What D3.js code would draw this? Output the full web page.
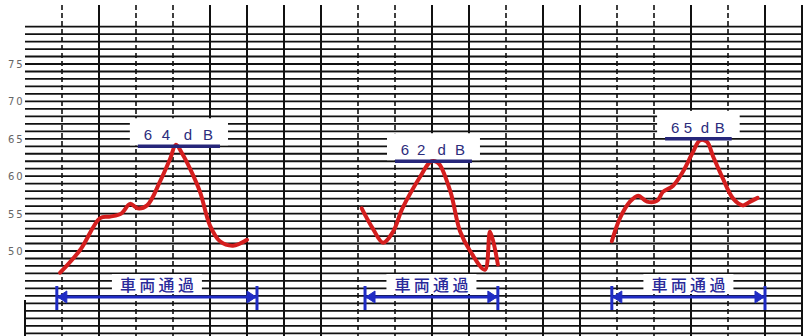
<html>
<head>
<script src="https://d3js.org/d3.v7.min.js"></script>
<style>
  body { margin: 0; background: #fff; }
  svg { display: block; }
</style>
</head>
<body>
<div id="chart"></div>
<script>
// y tick labels (dB)
const dbTicks = [75, 70, 65, 60, 55, 50];

// three recorded traces: time (grid units) and level (dB)
const trace1T  = [0.95, 1.5, 2.03, 2.3, 2.6, 2.84, 3.05, 3.3, 3.65, 3.92, 4.08, 4.25, 4.46, 4.73, 5.0, 5.27, 5.62, 6.0];
const trace1Db = [47.1, 50.2, 54.4, 54.6, 55.0, 56.3, 55.7, 56.1, 59.3, 62.3, 64.2, 63.0, 61.0, 57.9, 53.4, 51.3, 50.7, 51.5];

const trace2T  = [9.1, 9.4, 9.68, 9.95, 10.2, 10.7, 10.95, 11.08, 11.2, 11.5, 11.76, 12.03, 12.43, 12.57, 12.78];
const trace2Db = [55.7, 53.0, 51.1, 52.6, 55.7, 60.1, 61.9, 62.0, 61.6, 57.9, 52.6, 50.0, 47.5, 52.6, 48.2];

const trace3T  = [15.86, 16.08, 16.35, 16.57, 16.81, 17.08, 17.24, 17.51, 17.78, 18.05, 18.24, 18.43, 18.6, 18.86, 19.14, 19.4, 19.6, 19.8];
const trace3Db = [51.3, 54.4, 56.6, 57.4, 56.6, 56.7, 57.9, 58.7, 60.6, 63.2, 64.8, 64.6, 62.6, 59.7, 57.0, 56.1, 56.6, 57.1];

// peak annotations
const peakLabels = ["64 dB", "62 dB", "65 dB"];
const peakValues = [64, 62, 65];
const peakFrom   = [3.05, 10.0, 17.3];
const peakTo     = [5.27, 12.08, 19.1];

// vehicle passage spans
const passLabel = "車両通過";
const passFrom  = [0.86, 9.19, 15.86];
const passTo    = [6.27, 12.78, 20.0];

const width = 803, height = 336;

const x = d3.scaleLinear().domain([0, 21]).range([25, 802]);
const y = d3.scaleLinear().domain([50, 75]).range([251, 64]);

const svg = d3.select("#chart").append("svg")
    .attr("width", width)
    .attr("height", height);

svg.append("rect").attr("width", width).attr("height", height).attr("fill", "#fff");

// horizontal grid, one line per dB
const hLines = d3.range(39, 81);
svg.append("g").selectAll("line")
    .data(hLines)
    .enter().append("line")
    .attr("x1", x(0))
    .attr("x2", width)
    .attr("y1", d => y(d))
    .attr("y2", d => y(d))
    .attr("stroke", "#111")
    .attr("stroke-width", 1.8);

// vertical grid
const dashedCols = [1, 3, 4, 9, 10, 13, 16, 17, 19];
svg.append("g").selectAll("line")
    .data(d3.range(1, 22))
    .enter().append("line")
    .attr("x1", d => x(d))
    .attr("x2", d => x(d))
    .attr("y1", 5)
    .attr("y2", height)
    .attr("stroke", "#111")
    .attr("stroke-width", d => dashedCols.includes(d) ? 1.6 : 2)
    .attr("stroke-dasharray", d => dashedCols.includes(d) ? "5,3" : null);

// left stub at t=0
svg.append("line")
    .attr("x1", x(0)).attr("x2", x(0))
    .attr("y1", 300).attr("y2", height)
    .attr("stroke", "#111").attr("stroke-width", 2);

// y labels
svg.append("g").selectAll("text")
    .data(dbTicks)
    .enter().append("text")
    .attr("x", 8)
    .attr("y", d => y(d) + 4)
    .attr("font-family", "DejaVu Sans, sans-serif")
    .attr("font-size", 10)
    .attr("letter-spacing", 2)
    .attr("fill", "#666")
    .text(d => d);

// white boxes behind labels
peakLabels.forEach((lab, i) => {
    const x0 = x(peakFrom[i]), x1 = x(peakTo[i]);
    svg.append("rect")
        .attr("x", x0 - 8)
        .attr("y", y(peakValues[i]) - 28)
        .attr("width", x1 - x0 + 16)
        .attr("height", 27)
        .attr("fill", "#fff");
});
passFrom.forEach((f, i) => {
    const cx = (x(f) + x(passTo[i])) / 2;
    svg.append("rect")
        .attr("x", cx - 45)
        .attr("y", 274)
        .attr("width", 90)
        .attr("height", 20)
        .attr("fill", "#fff");
});

// traces
const line = d3.line()
    .x(d => x(d[0]))
    .y(d => y(d[1]))
    .curve(d3.curveCatmullRom.alpha(0.5));

[[trace1T, trace1Db], [trace2T, trace2Db], [trace3T, trace3Db]].forEach(tr => {
    const pts = tr[0].map((t, i) => [t, tr[1][i]]);
    svg.append("path")
        .datum(pts)
        .attr("d", line)
        .attr("fill", "none")
        .attr("stroke", "#d41e1e")
        .attr("stroke-width", 4)
        .attr("stroke-linejoin", "round")
        .attr("stroke-linecap", "round");
});

// peak labels + bars (characters spread evenly, like "6 4 d B")
peakLabels.forEach((lab, i) => {
    const x0 = x(peakFrom[i]), x1 = x(peakTo[i]);
    const yy = y(peakValues[i]);
    svg.append("line")
        .attr("x1", x0).attr("x2", x1)
        .attr("y1", yy).attr("y2", yy)
        .attr("stroke", "#26267a")
        .attr("stroke-width", 3.5);
    const chars = lab.split("");
    const glyphs = chars.filter(c => c !== " ").length;
    const step = (x1 - x0 - 22) / (glyphs - 1);
    const t = svg.append("text")
        .attr("y", yy - 6)
        .attr("font-family", "Liberation Sans, Arial, sans-serif")
        .attr("font-size", 15)
        .attr("fill", "#2c2c7c")
        .attr("text-anchor", "middle");
    let k = 0;
    chars.forEach(c => {
        if (c === " ") {
            t.append("tspan").text(" ");
        } else {
            t.append("tspan").attr("x", x0 + 10 + k * step).text(c);
            k++;
        }
    });
});

// passage arrows
const ay = 297;
passFrom.forEach((f, i) => {
    const x0 = x(f), x1 = x(passTo[i]);
    const g = svg.append("g").attr("fill", "#1f2bc4").attr("stroke", "#1f2bc4");
    g.append("line")
        .attr("x1", x0).attr("x2", x1)
        .attr("y1", ay).attr("y2", ay)
        .attr("stroke-width", 3);
    g.append("line")
        .attr("x1", x0).attr("x2", x0)
        .attr("y1", ay - 11).attr("y2", ay + 13)
        .attr("stroke-width", 3);
    g.append("line")
        .attr("x1", x1).attr("x2", x1)
        .attr("y1", ay - 11).attr("y2", ay + 13)
        .attr("stroke-width", 3);
    g.append("path")
        .attr("d", `M${x0 + 1},${ay} L${x0 + 10},${ay - 6} L${x0 + 10},${ay + 6} Z`)
        .attr("stroke-width", 1);
    g.append("path")
        .attr("d", `M${x1 - 1},${ay} L${x1 - 10},${ay - 6} L${x1 - 10},${ay + 6} Z`)
        .attr("stroke-width", 1);

    const cx = (x0 + x1) / 2;
    svg.append("text")
        .attr("x", cx - 37)
        .attr("y", 291)
        .attr("font-family", "Noto Sans CJK JP, sans-serif")
        .attr("font-size", 16)
        .attr("font-weight", 500)
        .attr("fill", "#2a2a9a")
        .attr("textLength", 74)
        .attr("lengthAdjust", "spacing")
        .text(passLabel);
});
</script>
</body>
</html>
